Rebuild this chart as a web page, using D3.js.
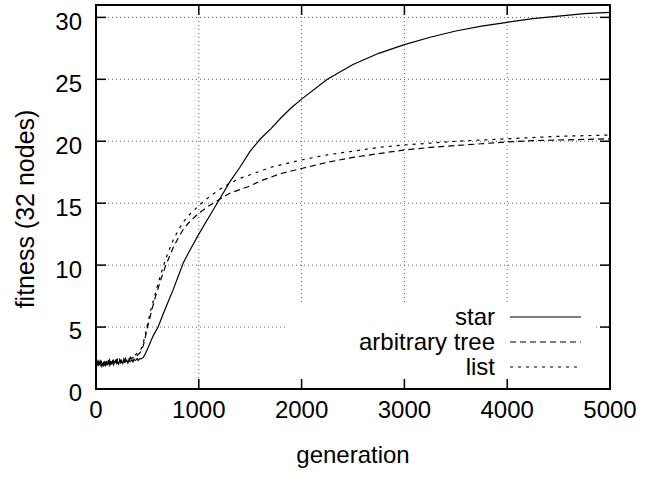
<!DOCTYPE html>
<html>
<head>
<meta charset="utf-8">
<script src="https://cdn.jsdelivr.net/npm/d3@7.9.0/dist/d3.min.js"></script>
<style>
  body { margin: 0; background: #fff; }
  svg { display: block; font-family: "Liberation Sans", Arial, sans-serif; }
</style>
</head>
<body>
<svg width="660" height="496"></svg>
<script>
// generation numbers shared by all three runs
const generations = [
  0, 10, 20, 30, 40, 50, 60, 70, 80, 90, 100, 110, 120, 130, 140, 150, 160, 170, 180, 190,
  200, 210, 220, 230, 240, 250, 260, 270, 280, 290, 300, 310, 320, 330, 340, 350, 360, 370, 380, 390,
  400, 410, 420, 430, 440,
  460, 480, 500, 520, 540, 560, 580, 600,
  625, 650, 675, 700,
  750, 800, 850, 900,
  1000, 1100, 1200, 1300, 1400, 1500, 1600, 1700, 1800, 1900, 2000,
  2250, 2500, 2750, 3000, 3250, 3500, 3750, 4000, 4250, 4500, 4750, 5000
];
const starFitness = [
  2.0, 2.25, 1.85, 2.15, 1.95, 2.3, 1.9, 2.1, 2.2, 1.9, 2.15, 2.0, 2.3, 1.95, 2.2, 2.05, 2.25, 1.95, 2.15, 2.3,
  2.05, 2.2, 2.0, 2.3, 2.1, 2.25, 2.05, 2.3, 2.15, 2.2, 2.3, 2.1, 2.35, 2.2, 2.25, 2.35, 2.2, 2.4, 2.3, 2.35,
  2.45, 2.3, 2.4, 2.45, 2.45,
  2.55, 2.85, 3.2, 3.6, 4.0, 4.35, 4.65, 4.95,
  5.45, 6.0, 6.5, 7.0,
  8.0, 9.1, 10.2, 11.0,
  12.5, 13.9, 15.3, 16.7, 17.9, 19.2, 20.2, 21.0, 21.9, 22.7, 23.4,
  25.0, 26.2, 27.1, 27.8, 28.4, 28.9, 29.3, 29.6, 29.9, 30.1, 30.3, 30.4
];
const treeFitness = [
  1.9, 2.2, 2.05, 1.85, 2.25, 2.0, 2.15, 1.9, 2.3, 2.05, 2.2, 1.95, 2.1, 2.35, 2.0, 2.25, 2.1, 2.3, 2.0, 2.2,
  2.35, 2.1, 2.25, 2.4, 2.15, 2.3, 2.2, 2.45, 2.25, 2.35, 2.3, 2.45, 2.35, 2.4, 2.5, 2.45, 2.55, 2.5, 2.6, 2.65,
  2.7, 2.8, 2.85, 2.95, 3.1,
  3.5, 4.2, 5.0, 5.6, 6.3, 6.9, 7.5, 8.0,
  8.7, 9.3, 9.9, 10.4,
  11.4, 12.2, 12.9, 13.4,
  14.2, 14.8, 15.3, 15.8, 16.1, 16.4, 16.8, 17.1, 17.4, 17.6, 17.8,
  18.3, 18.7, 19.0, 19.3, 19.5, 19.65, 19.8, 19.95, 20.05, 20.1, 20.15, 20.2
];
const listFitness = [
  2.15, 1.9, 2.3, 2.0, 2.1, 1.85, 2.25, 2.1, 1.95, 2.3, 2.0, 2.25, 2.05, 2.2, 2.4, 2.1, 2.3, 2.0, 2.35, 2.15,
  2.25, 2.4, 2.2, 2.35, 2.25, 2.45, 2.3, 2.4, 2.35, 2.5, 2.4, 2.55, 2.45, 2.5, 2.6, 2.55, 2.65, 2.7, 2.75, 2.8,
  2.9, 3.0, 3.05, 3.15, 3.25,
  3.7, 4.4, 5.2, 5.9, 6.6, 7.2, 7.8, 8.4,
  9.1, 9.8, 10.4, 11.0,
  12.0, 12.8, 13.5, 14.0,
  14.8, 15.5, 16.1, 16.6, 17.0, 17.3, 17.6, 17.9, 18.1, 18.3, 18.5,
  18.9, 19.2, 19.5, 19.7, 19.85, 20.0, 20.1, 20.2, 20.3, 20.4, 20.45, 20.5
];
const seriesLabels = ['star', 'arbitrary tree', 'list'];
const xTicks = [0, 1000, 2000, 3000, 4000, 5000];
const yTicks = [0, 5, 10, 15, 20, 25, 30];

const dashes = [null, '6,4', '3,5'];
const series = [starFitness, treeFitness, listFitness].map((values, i) => ({
  label: seriesLabels[i],
  dash: dashes[i],
  points: generations.map((g, j) => [g, values[j]])
}));

let plotLeft = 96, plotRight = 610, plotTop = 5, plotBottom = 389;
let x = d3.scaleLinear().domain([0, 5000]).range([plotLeft, plotRight]);
let y = d3.scaleLinear().domain([0, 31]).range([plotBottom, plotTop]);
let svg = d3.select('svg');
let fontSize = 24;
let tickLen = 10;

// dotted grid
svg.selectAll('.gx').data(xTicks.slice(1, -1)).join('line')
  .attr('x1', (d) => x(d)).attr('x2', (d) => x(d))
  .attr('y1', plotTop).attr('y2', plotBottom)
  .attr('stroke', '#666').attr('stroke-width', 1).attr('stroke-dasharray', '1,3');
svg.selectAll('.gy').data(yTicks.slice(1)).join('line')
  .attr('x1', plotLeft).attr('x2', plotRight)
  .attr('y1', (d) => y(d)).attr('y2', (d) => y(d))
  .attr('stroke', '#666').attr('stroke-width', 1).attr('stroke-dasharray', '1,3');

// opaque key box (hides grid under it)
svg.append('rect')
  .attr('x', 286).attr('y', 304).attr('width', 310).attr('height', plotBottom - 304)
  .attr('fill', '#fff');

let line = d3.line().x((d) => x(d[0])).y((d) => y(d[1]));
series.forEach((s) => {
  svg.append('path')
    .attr('d', line(s.points))
    .attr('fill', 'none')
    .attr('stroke', '#000')
    .attr('stroke-width', 1.2)
    .attr('stroke-dasharray', s.dash);
});

// legend
series.forEach((s, i) => {
  let ly = 317 + i * 25;
  svg.append('text')
    .attr('x', 495).attr('y', ly).attr('dy', '0.35em')
    .attr('text-anchor', 'end').attr('font-size', fontSize)
    .text(s.label);
  svg.append('line')
    .attr('x1', 510).attr('x2', 581).attr('y1', ly).attr('y2', ly)
    .attr('stroke', '#000').attr('stroke-width', 1.2)
    .attr('stroke-dasharray', s.dash);
});

// ticks on all four sides, pointing inward
let ticks = svg.append('g').attr('stroke', '#000').attr('stroke-width', 1.5);
xTicks.forEach((t) => {
  ticks.append('line').attr('x1', x(t)).attr('x2', x(t)).attr('y1', plotBottom).attr('y2', plotBottom - tickLen);
  ticks.append('line').attr('x1', x(t)).attr('x2', x(t)).attr('y1', plotTop).attr('y2', plotTop + tickLen);
});
yTicks.forEach((t) => {
  ticks.append('line').attr('x1', plotLeft).attr('x2', plotLeft + tickLen).attr('y1', y(t)).attr('y2', y(t));
  ticks.append('line').attr('x1', plotRight).attr('x2', plotRight - tickLen).attr('y1', y(t)).attr('y2', y(t));
});

svg.append('rect')
  .attr('x', plotLeft).attr('y', plotTop)
  .attr('width', plotRight - plotLeft).attr('height', plotBottom - plotTop)
  .attr('fill', 'none').attr('stroke', '#000').attr('stroke-width', 2);

// tick labels
svg.selectAll('.xl').data(xTicks).join('text')
  .attr('x', (d) => x(d)).attr('y', 410).attr('dy', '0.35em')
  .attr('text-anchor', 'middle').attr('font-size', fontSize)
  .text((d) => d);
svg.selectAll('.yl').data(yTicks).join('text')
  .attr('x', 82).attr('y', (d) => y(d) + 4).attr('dy', '0.35em')
  .attr('text-anchor', 'end').attr('font-size', fontSize)
  .text((d) => d);

// axis titles
svg.append('text')
  .attr('x', (plotLeft + plotRight) / 2).attr('y', 455).attr('dy', '0.35em')
  .attr('text-anchor', 'middle').attr('font-size', fontSize)
  .text('generation');
svg.append('text')
  .attr('transform', 'translate(25,209) rotate(-90)')
  .attr('dy', '0.35em')
  .attr('text-anchor', 'middle').attr('font-size', 25)
  .text('fitness (32 nodes)');
</script>
</body>
</html>
